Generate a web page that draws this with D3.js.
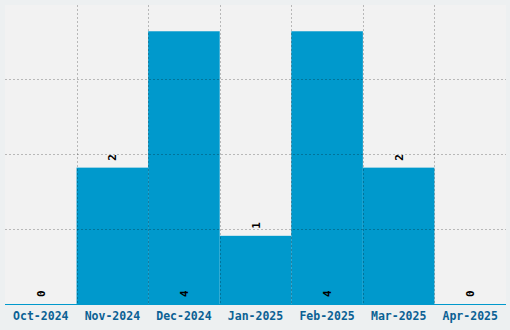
<!DOCTYPE html>
<html><head><meta charset="utf-8">
<script src="https://cdn.jsdelivr.net/npm/d3@7"></script>
<style>html,body{margin:0;padding:0;background:#edf0f1;}svg{display:block;}</style>
</head><body>
<svg id="c" width="510" height="330"></svg>
<script>
const categories = ["Oct-2024","Nov-2024","Dec-2024","Jan-2025","Feb-2025","Mar-2025","Apr-2025"];
const values = [0, 2, 4, 1, 4, 2, 0];
const yMax = 4.4;
const gridTicks = [1.1, 2.2, 3.3];

const W = 510, H = 330;
const m = {left: 5, right: 4, top: 4, bottom: 26};
const svg = d3.select("#c");
const x = d3.scaleBand().domain(categories).range([m.left, W - m.right]).padding(0);
const y = d3.scaleLinear().domain([0, yMax]).range([H - m.bottom, m.top]);

svg.append("rect").attr("x", m.left).attr("y", m.top + 1)
  .attr("width", W - m.left - m.right).attr("height", H - m.bottom - m.top - 1)
  .attr("fill", "#f2f2f2");

svg.selectAll("rect.bar").data(values).enter().append("rect").attr("class", "bar")
  .attr("x", (d, i) => x(categories[i]))
  .attr("width", x.bandwidth())
  .attr("y", d => y(d))
  .attr("height", d => y(0) - y(d))
  .attr("fill", "#0099cc");

const grid = svg.append("g").attr("stroke", "rgba(0,0,0,0.24)").attr("stroke-dasharray", "2,2").attr("stroke-width", 1);
grid.selectAll("line.h").data(gridTicks).enter().append("line")
  .attr("x1", m.left).attr("x2", W - m.right)
  .attr("y1", d => Math.round(y(d)) + 0.5).attr("y2", d => Math.round(y(d)) + 0.5);
grid.selectAll("line.v").data(categories.slice(1)).enter().append("line")
  .attr("x1", d => Math.round(x(d)) + 0.5).attr("x2", d => Math.round(x(d)) + 0.5)
  .attr("y1", m.top + 1).attr("y2", y(0));

const xAxis = d3.axisBottom(x).tickSize(0).tickPadding(8);
const gx = svg.append("g").attr("transform", `translate(0,${y(0)})`).call(xAxis);
gx.select(".domain").attr("stroke", "#0099cc").attr("d", `M${m.left},0.5H${W - m.right}`);
gx.selectAll("text").attr("fill", "#0b6194").attr("font-family", "DejaVu Sans Mono")
  .attr("font-weight", "bold").attr("font-size", "11.5px");

const vmax = d3.max(values);
svg.selectAll("text.val").data(values).enter().append("text").attr("class", "val")
  .attr("transform", (d, i) => {
    const cx = x(categories[i]) + x.bandwidth() / 2 + 4;
    const yy = (d >= vmax ? y(0) : y(d)) - 7;
    return `translate(${cx},${yy}) rotate(-90)`;
  })
  .attr("text-anchor", "start")
  .attr("font-family", "DejaVu Sans Mono").attr("font-weight", "bold").attr("font-size", "11px")
  .attr("fill", "#000")
  .text(d => d);
</script>
</body></html>
